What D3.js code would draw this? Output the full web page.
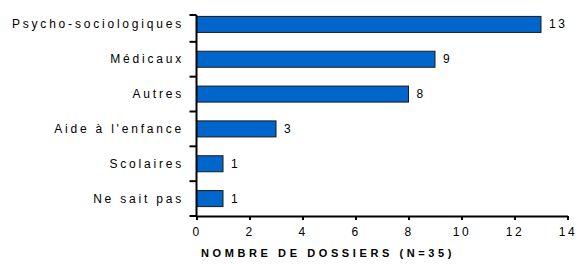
<!DOCTYPE html>
<html>
<head>
<meta charset="utf-8">
<script src="https://cdn.jsdelivr.net/npm/d3@7"></script>
<style>
body { margin: 0; background: #fff; }
text { font-family: "Liberation Sans", Arial, sans-serif; fill: #000; }
.cat { font-size: 12px; letter-spacing: 2.8px; }
.tick-label { font-size: 12px; letter-spacing: 2.5px; }
.val { font-size: 12px; letter-spacing: 2.5px; }
.title { font-size: 11px; font-weight: bold; letter-spacing: 3.6px; }
</style>
</head>
<body>
<script>
var categories = ["Psycho-sociologiques", "Médicaux", "Autres", "Aide à l'enfance", "Scolaires", "Ne sait pas"];
var values = [13, 9, 8, 3, 1, 1];
var xTicks = [0, 2, 4, 6, 8, 10, 12, 14];

var chartWidth = 580;
var chartHeight = 273;

var x0 = 196.5, x1 = 567.5;
var yTop = 7, yBottom = 216;

var xScale = d3.scaleLinear()
               .domain([0, 14])
               .range([x0, x1]);

var yScale = d3.scaleBand()
               .domain(categories)
               .range([yTop, yBottom])
               .paddingInner(0.54)
               .paddingOuter(0.27);

var svg = d3.select("body")
            .append("svg")
            .attr("width", chartWidth)
            .attr("height", chartHeight);

// bars
svg.selectAll("rect.bar")
   .data(values)
   .enter()
   .append("rect")
   .attr("class", "bar")
   .attr("x", xScale(0))
   .attr("y", function(d, i) { return yScale(categories[i]); })
   .attr("width", function(d) { return xScale(d) - xScale(0); })
   .attr("height", yScale.bandwidth())
   .attr("fill", "#0066cc")
   .attr("stroke", "#1a1a1a")
   .attr("stroke-width", 1);

// value labels
svg.selectAll("text.val")
   .data(values)
   .enter()
   .append("text")
   .attr("class", "val")
   .attr("x", function(d) { return xScale(d) + 8; })
   .attr("y", function(d, i) { return yScale(categories[i]) + yScale.bandwidth() / 2 + 4; })
   .text(function(d) { return d; });

// category labels
svg.selectAll("text.cat")
   .data(categories)
   .enter()
   .append("text")
   .attr("class", "cat")
   .attr("text-anchor", "end")
   .attr("x", 184)
   .attr("y", function(d) { return yScale(d) + yScale.bandwidth() / 2 + 4; })
   .text(function(d) { return d; });

// y axis line and separator ticks (between bands)
var gap = yScale.step() - yScale.bandwidth();
var sepY = [15];
categories.forEach(function(c, i) {
  if (i > 0) sepY.push(yScale(c) - gap / 2);
});
sepY.push(yBottom);

svg.append("line")
   .attr("x1", x0).attr("x2", x0)
   .attr("y1", 15).attr("y2", yBottom)
   .attr("stroke", "#000").attr("stroke-width", 2);

svg.selectAll("line.ysep")
   .data(sepY)
   .enter()
   .append("line")
   .attr("x1", x0 - 7).attr("x2", x0)
   .attr("y1", function(d) { return d; })
   .attr("y2", function(d) { return d; })
   .attr("stroke", "#000").attr("stroke-width", 2);

// x axis
var xAxis = svg.append("g")
               .attr("transform", "translate(0," + yBottom + ")")
               .call(d3.axisBottom(xScale)
                       .tickValues(xTicks)
                       .tickSizeInner(4)
                       .tickSizeOuter(0)
                       .tickPadding(7));

xAxis.select(".domain").attr("stroke", "#000").attr("stroke-width", 2);
xAxis.selectAll(".tick line").attr("stroke", "#000").attr("stroke-width", 2);
xAxis.selectAll(".tick text")
     .attr("class", "tick-label")
     .attr("font-family", null)
     .attr("font-size", null)
     .attr("fill", "#000");

svg.append("text")
   .attr("class", "title")
   .attr("text-anchor", "middle")
   .attr("x", 328)
   .attr("y", 257)
   .text("NOMBRE DE DOSSIERS (N=35)");
</script>
</body>
</html>
